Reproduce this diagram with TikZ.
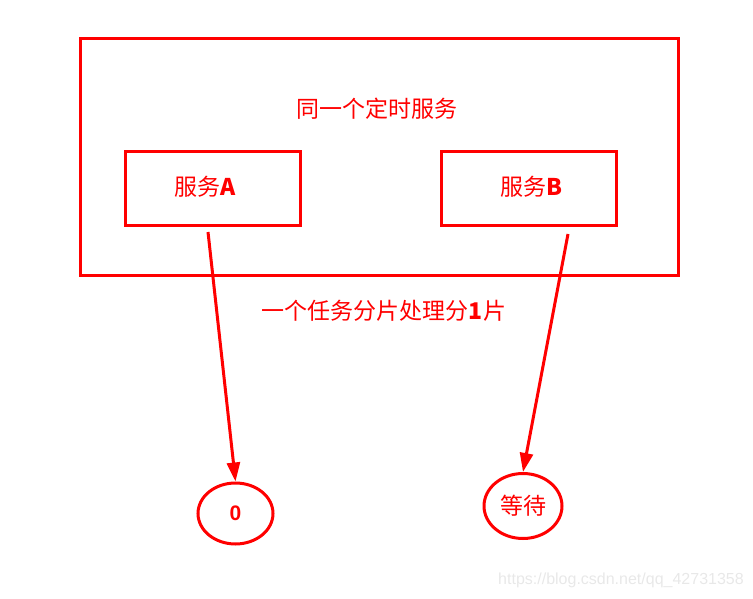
\documentclass[tikz,border=0pt]{standalone}
\usepackage{fontspec}
\setmainfont{Liberation Sans}
\newfontfamily\cjk{Noto Sans CJK SC}
\usetikzlibrary{arrows.meta,shapes.geometric}
\definecolor{myred}{RGB}{255,0,0}
\definecolor{wm}{RGB}{232,232,232}
\begin{document}
\begin{tikzpicture}[x=1pt,y=-1pt,
  redbox/.style={draw=myred,line width=3pt,minimum width=#1,inner sep=0pt},
  oval/.style={draw=myred,line width=3pt,ellipse,inner sep=0pt},
  lbl/.style={text=myred,font=\fontsize{23}{26}\selectfont,inner sep=0pt},
  conn/.style={draw=myred,line width=3pt,-{Triangle[length=19pt,width=13pt]}}]
\useasboundingbox (0,0) rectangle (753,599);
\node[redbox=598pt,minimum height=237pt] (outer) at (379.5,157) {};
\node[redbox=175pt,minimum height=74pt] (a) at (212.5,189) {};
\node[redbox=175pt,minimum height=74pt] (b) at (528.5,189) {};
\node[lbl] (title) at (377,109) {\cjk 同一个定时服务};
\node[lbl] (la) at (205,187) {\cjk 服务\textbf{A}};
\node[lbl] (lb) at (531,187) {\cjk 服务\textbf{B}};
\node[lbl] (mid) at (384,311) {\cjk 一个任务分片处理分\textbf{1}片};
\node[oval,minimum width=75pt,minimum height=61pt] (z) at (235.5,513.5) {};
\node[lbl,font=\fontsize{21}{24}\selectfont\bfseries] at (z) {0};
\node[oval,minimum width=78pt,minimum height=65pt] (w) at (523,506) {};
\node[lbl] at (w) {\cjk 等待};
\coordinate (sa) at (208,232);
\coordinate (sb) at (568,234);
\draw[conn] (sa) -- (z.north);
\draw[conn] (sb) -- (w.north);
\node[text=wm,font=\fontsize{16}{18}\selectfont,inner sep=0pt] (url) at (621,580) {https://blog.csdn.net/qq\_42731358};
\end{tikzpicture}
\end{document}
